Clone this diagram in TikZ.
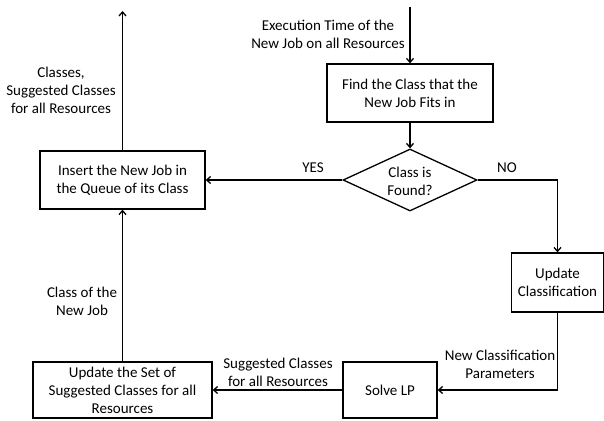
\documentclass[tikz,border=0pt]{standalone}
\usepackage{fontspec}
\setmainfont{Carlito}
\usetikzlibrary{shapes.geometric,arrows.meta}
\begin{document}
\begin{tikzpicture}[x=1pt,y=-1pt,
  txt/.style={font=\fontsize{15}{18}\selectfont},
  box/.style={draw,line width=1.3pt,align=center,inner sep=0pt,txt},
  lbl/.style={align=center,inner sep=0pt,txt},
  arr/.style={line width=1.3pt,-{Straight Barb[length=4pt,width=7pt]}}]
\useasboundingbox (0,0) rectangle (604,420);
% boxes
\node[box,minimum width=166pt,minimum height=58pt] (find) at (410,93) {Find the Class that the\\New Job Fits in};
\node[draw,diamond,line width=1.3pt,minimum width=134pt,minimum height=62pt,inner sep=0pt] (dia) at (410,180) {};
\node[lbl] (diat) at (410,181) {Class is\\Found?};
\node[box,minimum width=165pt,minimum height=58pt] (ins) at (122.5,180) {Insert the New Job in\\the Queue of its Class};
\node[box,minimum width=92pt,minimum height=59pt] (uc) at (557.5,282.5) {Update\\Classification};
\node[box,minimum width=94pt,minimum height=56pt] (lp) at (390,390) {Solve LP};
\node[box,minimum width=179pt,minimum height=56pt] (us) at (122.5,390) {Update the Set of\\Suggested Classes for all\\Resources};
% free ends and corners
\coordinate (top) at (410,7);
\coordinate (out) at (122.5,11);
\coordinate (c1) at (557.5,180);
\coordinate (c2) at (557.5,390);
% connectors
\draw[arr] (top) -- (find.north);
\draw[arr] (find.south) -- (dia.north);
\draw[arr] (dia.west) -- (ins.east);
\draw[arr] (dia.east) -- (c1) -- (uc.north);
\draw[arr] (uc.south) -- (c2) -- (lp.east);
\draw[arr] (lp.west) -- (us.east);
\draw[arr] (us.north) -- (ins.south);
\draw[arr] (ins.north) -- (out);
% labels
\node[lbl] (l1) at (328,34.5) {Execution Time of the\\New Job on all Resources};
\node[lbl] (l2) at (61,90) {Classes,\\Suggested Classes\\for all Resources};
\node[lbl] (l3) at (313,168) {YES};
\node[lbl] (l4) at (507,168) {NO};
\node[lbl] (l5) at (82,301.5) {Class of the\\New Job};
\node[lbl] (l6) at (500,364) {New Classification\\Parameters};
\node[lbl] (l7) at (278,372) {Suggested Classes\\for all Resources};
\end{tikzpicture}
\end{document}
